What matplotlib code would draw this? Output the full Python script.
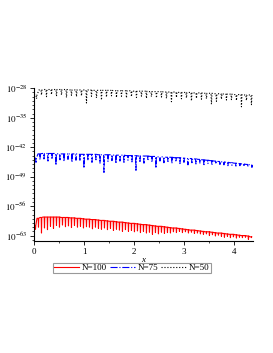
import numpy as np
import matplotlib
matplotlib.use('Agg')
import matplotlib.pyplot as plt
from matplotlib.ticker import FixedLocator, FuncFormatter, NullFormatter

plt.rcParams['font.family'] = ['Liberation Serif', 'DejaVu Serif']
plt.rcParams['mathtext.fontset'] = 'stix'

# log10 of the curves
# N=100: tops every 0.06 from 0, dips halfway between
red_top = [-60.6, -58.9, -58.7, -58.6, -58.6, -58.6, -58.6, -58.6, -58.6, -58.7,
           -58.7, -58.7, -58.8, -58.8, -58.9, -58.9, -59.0, -59.1, -59.1, -59.2,
           -59.2, -59.3, -59.4, -59.4, -59.5, -59.6, -59.6, -59.7, -59.8, -59.8,
           -59.9, -60.0, -60.1, -60.1, -60.2, -60.3, -60.4, -60.4, -60.5, -60.6,
           -60.7, -60.8, -60.8, -60.9, -61.0, -61.1, -61.2, -61.2, -61.3, -61.4,
           -61.5, -61.6, -61.7, -61.7, -61.8, -61.9, -62.0, -62.1, -62.1, -62.2,
           -62.3, -62.4, -62.4, -62.5, -62.6, -62.7, -62.7, -62.8, -62.9, -63.0,
           -63.0, -63.1, -63.3]
red_dip = [-61.5, -61.0, -62.4, -61.2, -61.6, -60.8, -61.3, -60.6, -61.0, -60.5,
           -60.9, -60.7, -61.1, -60.6, -61.0, -60.8, -61.2, -60.9, -61.0, -61.4,
           -61.0, -61.3, -61.5, -61.2, -61.6, -61.3, -61.8, -61.5, -61.7, -62.0,
           -61.6, -62.0, -61.8, -62.1, -61.9, -62.3, -62.0, -62.4, -62.2, -62.7,
           -62.3, -62.6, -62.2, -62.5, -62.3, -62.4, -62.1, -62.3, -62.0, -62.3,
           -62.1, -62.4, -62.2, -62.5, -62.4, -62.6, -62.7, -62.6, -63.0, -62.8,
           -63.1, -62.9, -63.2, -63.4, -63.2, -63.5, -63.3, -63.6, -63.4, -63.5,
           -63.4, -63.9, -63.5]

# N=75: tops every 0.08 from 0
blue_top = [-44.6, -43.6, -43.5, -43.5, -43.5, -43.5, -43.6, -43.6, -43.6, -43.6,
            -43.6, -43.7, -43.7, -43.7, -43.7, -43.7, -43.8, -43.8, -43.8, -43.8,
            -43.9, -43.9, -43.9, -44.0, -44.0, -44.0, -44.1, -44.1, -44.1, -44.2,
            -44.2, -44.3, -44.3, -44.4, -44.4, -44.5, -44.5, -44.6, -44.7, -44.7,
            -44.8, -44.9, -45.0, -45.1, -45.2, -45.3, -45.4, -45.5, -45.6, -45.7,
            -45.8, -45.9, -46.0, -46.1, -46.2]
blue_dip = [-45.6, -45.0, -44.8, -45.3, -44.9, -46.3, -45.0, -45.4, -44.9, -45.6,
            -45.1, -45.3, -47.0, -45.2, -45.6, -45.0, -45.8, -48.0, -45.4, -45.2,
            -45.9, -45.3, -45.6, -45.1, -45.5, -47.5, -45.4, -45.8, -45.2, -45.6,
            -47.0, -45.3, -45.7, -45.4, -45.9, -45.5, -45.9, -45.6, -46.2, -45.7,
            -46.0, -45.8, -46.4, -45.9, -46.3, -46.0, -46.1, -46.2, -46.4, -46.3,
            -46.5, -46.4, -46.6, -46.5, -46.8]

# N=50: tops every 0.1 from 0
black_top = [-29.6, -28.4, -28.3, -28.3, -28.3, -28.3, -28.3, -28.4, -28.4, -28.4,
             -28.4, -28.4, -28.5, -28.5, -28.5, -28.5, -28.6, -28.6, -28.6, -28.6,
             -28.7, -28.7, -28.7, -28.8, -28.8, -28.8, -28.9, -28.9, -28.9, -29.0,
             -29.0, -29.0, -29.1, -29.1, -29.2, -29.2, -29.3, -29.3, -29.4, -29.4,
             -29.5, -29.5, -29.6, -29.6]
black_dip = [-30.5, -29.6, -30.0, -29.5, -29.9, -29.6, -30.2, -29.7, -30.0, -29.8,
             -31.5, -29.9, -30.3, -30.8, -30.1, -29.8, -30.2, -29.9, -30.3, -30.0,
             -30.2, -29.9, -30.4, -30.0, -30.3, -30.1, -30.4, -31.2, -30.2, -30.5,
             -30.3, -31.0, -30.4, -30.6, -30.5, -31.8, -31.1, -30.6, -30.8, -30.7,
             -30.9, -32.4, -30.9, -31.9]

series = [
    ('N=100', red_top, red_dip, 0.06, '#ff0000', '-'),
    ('N=75', blue_top, blue_dip, 0.08, '#0000ff', '-.'),
    ('N=50', black_top, black_dip, 0.10, 'black', ':'),
]

ytick_exp = [-28, -35, -42, -49, -56, -63]
xticks = [0, 1, 2, 3, 4]


def spikes(top, dip, step):
    # flat-ish top for most of a period, narrow spike down at each dip
    xs, ys = [], []
    for k, (t, d) in enumerate(zip(top, dip)):
        x0 = k * step
        xs += [x0, x0 + 0.4 * step, x0 + 0.5 * step, x0 + 0.6 * step]
        ys += [t, t, d, t]
    return np.array(xs), 10.0 ** np.array(ys)


fig = plt.figure(figsize=(2.73, 3.53), dpi=100)
ax = fig.add_axes([0.1245, 0.316, 0.802, 0.434])

for name, top, dip, step, color, ls in series:
    x, y = spikes(top, dip, step)
    ax.plot(x, y, color=color, ls=ls, lw=0.8, label=name)

ax.set_yscale('log')
ax.set_xlim(0, 4.38)
ax.set_ylim(10.0 ** -64.4, 1e-28)

ax.yaxis.set_major_locator(FixedLocator([10.0 ** e for e in ytick_exp]))
ax.yaxis.set_major_formatter(FuncFormatter(lambda v, p: r'$10^{%d}$' % round(np.log10(v))))
ax.yaxis.set_minor_locator(FixedLocator([10.0 ** e for e in range(-64, -27)]))
ax.yaxis.set_minor_formatter(NullFormatter())
ax.xaxis.set_major_locator(FixedLocator(xticks))
ax.xaxis.set_minor_locator(FixedLocator(np.arange(0, 4.4, 0.5)))
ax.xaxis.set_minor_formatter(NullFormatter())

ax.tick_params(axis='both', which='major', labelsize=6.5, length=3, width=0.6, pad=2)
ax.tick_params(axis='both', which='minor', length=1.5, width=0.5)

for s in ['top', 'right']:
    ax.spines[s].set_visible(False)
for s in ['left', 'bottom']:
    ax.spines[s].set_linewidth(0.8)

ax.set_xlabel('x', style='italic', fontsize=6.5, labelpad=0)

leg = fig.legend(loc='center', bbox_to_anchor=(0.482, 0.241), ncol=3, fontsize=6.5,
                 frameon=True, fancybox=False, edgecolor='#808080', handlelength=2.8,
                 handletextpad=0.3, columnspacing=0.3, borderpad=0.12)
leg.get_frame().set_linewidth(0.8)

fig.savefig('out.png', dpi=100)
